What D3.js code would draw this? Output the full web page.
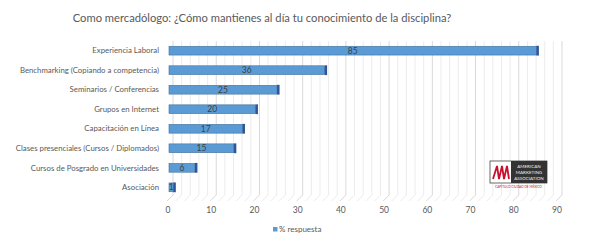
<!DOCTYPE html>
<html>
<head>
<meta charset="utf-8">
<script src="https://cdn.jsdelivr.net/npm/d3@7"></script>
<style>
  body { margin: 0; background: #fff; }
  text { font-family: Lato, "Open Sans", sans-serif; }
</style>
</head>
<body>
<div id="chart"></div>
<script>
const categories = [
  'Experiencia Laboral',
  'Benchmarking (Copiando a competencia)',
  'Seminarios / Conferencias',
  'Grupos en Internet',
  'Capacitación en Línea',
  'Clases presenciales (Cursos / Diplomados)',
  'Cursos de Posgrado en Universidades',
  'Asociación'
];
const values = [85, 36, 25, 20, 17, 15, 6, 1];
const ticks = [0, 10, 20, 30, 40, 50, 60, 70, 80, 90];
const seriesName = '% respuesta';
const title = 'Como mercadólogo: ¿Cómo mantienes al día tu conocimiento de la disciplina?';

const W = 589, H = 243;
const depth = 5;
const svg = d3.select('#chart').append('svg')
  .attr('width', W)
  .attr('height', H);

const x = d3.scaleLinear().domain([0, 90]).range([168, 557]);
const y = d3.scaleBand().domain(categories).range([41, 197]).paddingInner(0.55).paddingOuter(0.27);

// Title
svg.append('text')
  .attr('x', 262)
  .attr('y', 21.5)
  .attr('text-anchor', 'middle')
  .attr('fill', '#595959')
  .style('font-size', '11.2px')
  .text(title);

// Back wall gridlines (minor every 2, major every 10)
const gG = svg.append('g').attr('class', 'grid');
d3.range(0, 91, 2).forEach((v) => {
  const major = v % 10 === 0;
  gG.append('line')
    .attr('x1', x(v) + depth)
    .attr('x2', x(v) + depth)
    .attr('y1', 41)
    .attr('y2', 195)
    .attr('stroke', major ? '#d9d9d9' : '#ececec')
    .attr('stroke-width', 1);
  gG.append('line')
    .attr('x1', x(v) + depth)
    .attr('x2', x(v) - 1)
    .attr('y1', 195)
    .attr('y2', 201)
    .attr('stroke', major ? '#d9d9d9' : '#ececec')
    .attr('stroke-width', 1);
});

// Bars
const gB = svg.append('g').attr('class', 'bars');
categories.forEach((c, i) => {
  const by = y(c);
  const bh = y.bandwidth();
  const w = x(values[i]) - x(0);
  gB.append('rect')
    .attr('x', x(0) + 1)
    .attr('y', by)
    .attr('width', w)
    .attr('height', bh)
    .attr('fill', '#5b9bd5')
    .attr('stroke', '#41719c')
    .attr('stroke-width', 0.6);
  gB.append('rect')
    .attr('x', x(0) + 1 + w)
    .attr('y', by - 0.5)
    .attr('width', 2.5)
    .attr('height', bh + 1)
    .attr('fill', '#2f5597');
  gB.append('text')
    .attr('x', x(0) + 1 + w / 2)
    .attr('y', by + bh / 2)
    .attr('dy', '0.35em')
    .attr('text-anchor', 'middle')
    .attr('fill', '#404040')
    .style('font-size', '8.5px')
    .text(values[i]);
  svg.append('text')
    .attr('x', 159)
    .attr('y', by + bh / 2)
    .attr('dy', '0.35em')
    .attr('text-anchor', 'end')
    .attr('fill', '#595959')
    .style('font-size', '7.8px')
    .text(c);
});

// X axis labels
const gX = svg.append('g').attr('class', 'x-axis');
ticks.forEach((t) => {
  gX.append('text')
    .attr('x', x(t))
    .attr('y', 213)
    .attr('text-anchor', 'middle')
    .attr('fill', '#595959')
    .style('font-size', '8.5px')
    .text(t);
});

// Legend
svg.append('rect')
  .attr('x', 273)
  .attr('y', 227)
  .attr('width', 4.5)
  .attr('height', 4.5)
  .attr('fill', '#5b9bd5');
svg.append('text')
  .attr('x', 279)
  .attr('y', 232)
  .attr('fill', '#595959')
  .style('font-size', '8px')
  .text(seriesName);

// AMA logo
const gL = svg.append('g').attr('class', 'logo').attr('transform', 'translate(490,161)');
gL.append('rect').attr('width', 57).attr('height', 22).attr('fill', '#fff').attr('stroke', '#444').attr('stroke-width', 0.8);
gL.append('rect').attr('x', 21).attr('width', 36).attr('height', 22).attr('fill', '#333');
gL.append('path')
  .attr('d', 'M3,18 L7,5 L9,18 L12,5 L14,18 L17,5 L19,18')
  .attr('fill', 'none')
  .attr('stroke', '#c8102e')
  .attr('stroke-width', 1.8);
['AMERICAN', 'MARKETING', 'ASSOCIATION'].forEach((t, i) => {
  gL.append('text').attr('x', 39).attr('y', 7 + i * 6).attr('text-anchor', 'middle')
    .attr('fill', '#eee').style('font-size', '4.5px').text(t);
});
gL.append('text').attr('x', 28.5).attr('y', 26.5).attr('text-anchor', 'middle')
  .attr('fill', '#c8102e').style('font-size', '3.2px').text('CAPÍTULO CIUDAD DE MÉXICO');
</script>
</body>
</html>
